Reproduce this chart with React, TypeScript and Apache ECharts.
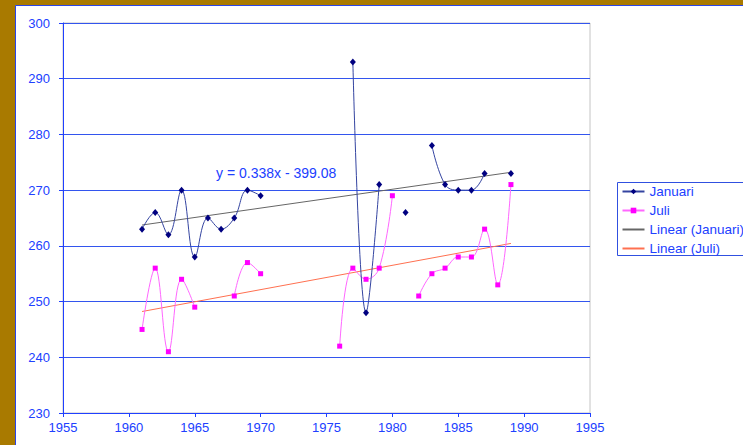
import React, { useEffect, useRef } from "react";
import * as echarts from "echarts";

const years = [1961, 1962, 1963, 1964, 1965, 1966, 1967, 1968, 1969, 1970, 1971, 1972, 1973, 1974, 1975, 1976, 1977, 1978, 1979, 1980, 1981, 1982, 1983, 1984, 1985, 1986, 1987, 1988, 1989];
const januari = [263, 266, 262, 270, 258, 265, 263, 265, 270, 269, null, null, null, null, null, null, 293, 248, 271, null, 266, null, 278, 271, 270, 270, 273, null, 273];
const juli = [245, 256, 241, 254, 249, null, null, 251, 257, 255, null, null, null, null, null, 242, 256, 254, 256, 269, null, 251, 255, 256, 258, 258, 263, 253, 271];
const xTicks = { min: 1955, max: 1995, interval: 5 };
const yTicks = { min: 230, max: 300, interval: 10 };
const equationLabel = "y = 0.338x - 399.08";

function pairs(vals: (number | null)[]) {
  return years.map((y, i) => [y, vals[i]]);
}

function trend(vals: (number | null)[]) {
  const pts = years.map((y, i) => [y, vals[i]]).filter((p) => p[1] != null) as number[][];
  const n = pts.length;
  const mx = pts.reduce((s, p) => s + p[0], 0) / n;
  const my = pts.reduce((s, p) => s + p[1], 0) / n;
  let sxy = 0, sxx = 0;
  pts.forEach((p) => { sxy += (p[0] - mx) * (p[1] - my); sxx += (p[0] - mx) ** 2; });
  const b = sxy / sxx;
  const a = my - b * mx;
  const x0 = pts[0][0], x1 = pts[n - 1][0];
  return [[x0, a + b * x0], [x1, a + b * x1]];
}

const BLUE = "#2040ff";
const FONT = "Liberation Sans, Arial, sans-serif";

export default function App() {
  const ref = useRef<HTMLDivElement>(null);
  useEffect(() => {
    const chart = echarts.init(ref.current!, null, { renderer: "svg" });
    chart.setOption({
      animation: false,
      backgroundColor: "#a97a00",
      graphic: [
        { type: "rect", z: -10, shape: { x: 15.5, y: 5.5, width: 740, height: 450 }, style: { fill: "#ffffff", stroke: "#2a44e8", lineWidth: 1 } },
        { type: "text", z: 10, x: 216, y: 173, style: { text: equationLabel, fill: BLUE, font: "14px " + FONT, textAlign: "left", textVerticalAlign: "middle" } },
      ],
      grid: { left: 63, right: 153, top: 23, bottom: 32, show: true, borderColor: "#c4c4c4", borderWidth: 1, backgroundColor: "transparent" },
      legend: {
        orient: "vertical",
        left: 617.5,
        top: 182.5,
        itemWidth: 22,
        itemHeight: 7,
        itemGap: 5,
        padding: [2, 8, 0, 4],
        borderColor: "#3050e0",
        borderWidth: 1,
        textStyle: { color: BLUE, fontSize: 13.5, fontFamily: FONT },
        data: [
          { name: "Januari" },
          { name: "Juli" },
          { name: "Linear (Januari)", itemStyle: { opacity: 0 } },
          { name: "Linear (Juli)", itemStyle: { opacity: 0 } },
        ],
      },
      xAxis: {
        type: "value",
        min: xTicks.min,
        max: xTicks.max,
        interval: xTicks.interval,
        axisLine: { show: true, lineStyle: { color: BLUE, width: 1 } },
        axisTick: { show: true, length: 4, lineStyle: { color: BLUE } },
        axisLabel: { color: BLUE, fontSize: 13, fontFamily: FONT, margin: 8, formatter: (v: number) => String(v) },
        splitLine: { show: false },
      },
      yAxis: {
        type: "value",
        min: yTicks.min,
        max: yTicks.max,
        interval: yTicks.interval,
        axisLine: { show: true, lineStyle: { color: BLUE, width: 1 } },
        axisTick: { show: true, length: 4, lineStyle: { color: BLUE } },
        axisLabel: { color: BLUE, fontSize: 13, fontFamily: FONT, margin: 13, formatter: (v: number) => String(v) },
        splitLine: { show: true, lineStyle: { color: "#3355ee", width: 1 } },
      },
      series: [
        {
          name: "Januari",
          type: "line",
          data: pairs(januari),
          smooth: 0.4,
          connectNulls: false,
          symbol: "diamond",
          symbolSize: [6, 7],
          showAllSymbol: true,
          lineStyle: { color: "#3444a0", width: 1 },
          itemStyle: { color: "#000080", borderWidth: 0 },
          z: 4,
        },
        {
          name: "Juli",
          type: "line",
          data: pairs(juli),
          smooth: 0.4,
          connectNulls: false,
          symbol: "rect",
          symbolSize: 5,
          showAllSymbol: true,
          lineStyle: { color: "#ff66ff", width: 1 },
          itemStyle: { color: "#ff00ff", borderWidth: 0 },
          z: 3,
        },
        {
          name: "Linear (Januari)",
          type: "line",
          data: trend(januari),
          symbol: "circle",
          showSymbol: false,
          lineStyle: { color: "#666666", width: 1 },
          itemStyle: { color: "#000000" },
          z: 2,
        },
        {
          name: "Linear (Juli)",
          type: "line",
          data: trend(juli),
          symbol: "circle",
          showSymbol: false,
          lineStyle: { color: "#ff7050", width: 1 },
          itemStyle: { color: "#ff0000" },
          z: 2,
        },
      ],
    });
    return () => chart.dispose();
  }, []);
  return (
    <div style={{ position: "fixed", left: 0, top: 0, width: 743, height: 445 }}>
      <div ref={ref} style={{ width: 743, height: 445 }} />
    </div>
  );
}
